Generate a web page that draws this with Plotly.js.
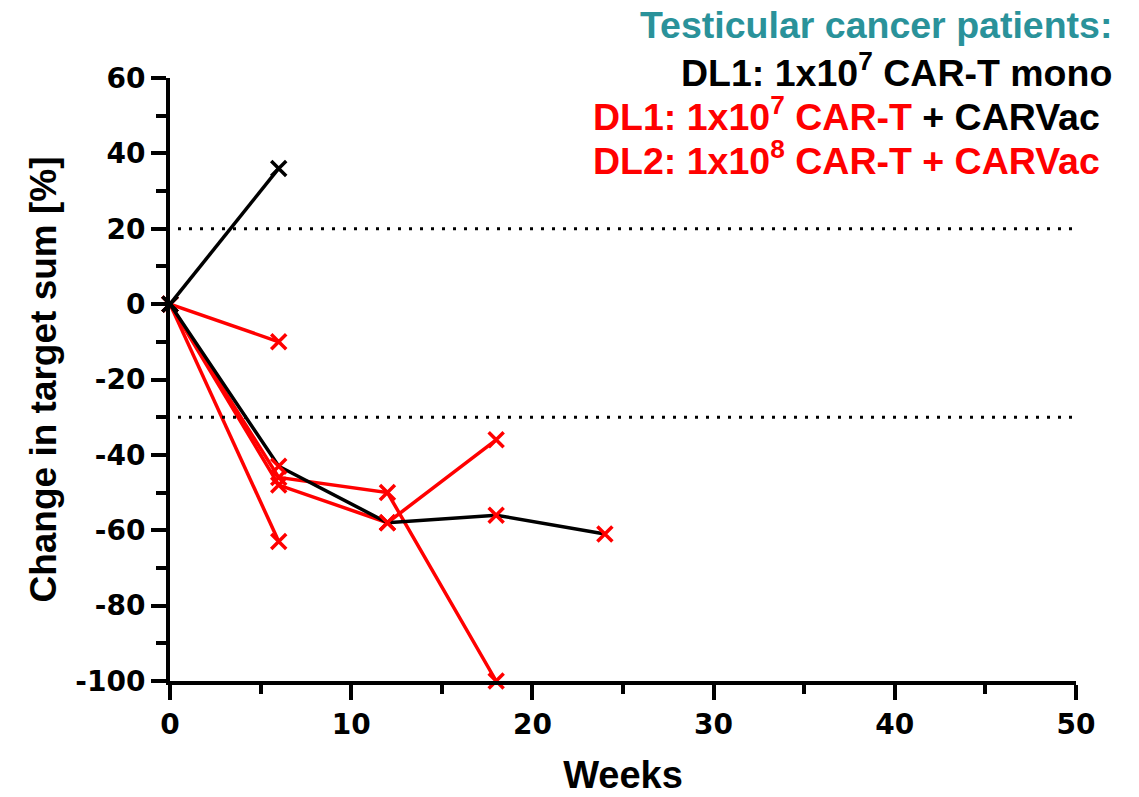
<!DOCTYPE html>
<html>
<head>
<meta charset="utf-8">
<script src="https://cdn.plot.ly/plotly-3.0.1.min.js"></script>
<style>
  html, body { margin: 0; padding: 0; background: #fff; }
  #chart { width: 1139px; height: 797px; }
</style>
</head>
<body>
<div id="chart"></div>
<script>
// ---- Data ----
const monoWeeks = [0, 6];
const monoValues = [0, 36];

const mixedWeeks = [0, 6, 12, 18, 24];
const mixedValues = [0, -43, -58, -56, -61];

const redAWeeks = [0, 6];
const redAValues = [0, -10];

const redBWeeks = [0, 6];
const redBValues = [0, -63];

const redCWeeks = [0, 6, 12, 18];
const redCValues = [0, -46, -50, -100];

const redDWeeks = [0, 6, 12, 18];
const redDValues = [0, -48, -58, -36];

const thresholds = [20, -30];

const xTicks = [0, 10, 20, 30, 40, 50];
const yTicks = [-100, -80, -60, -40, -20, 0, 20, 40, 60];

const legendLines = [
  '<span style="color:#2a929a">Testicular cancer patients:</span>',
  'DL1: 1x10<sup>7</sup> CAR-T mono',
  '<span style="color:#ff0000">DL1: 1x10<sup>7</sup> CAR-T</span> + CARVac',
  '<span style="color:#ff0000">DL2: 1x10<sup>8</sup> CAR-T + CARVac</span>'
];

// ---- Styling ----
const RED = '#ff0000';
const BLACK = '#000000';
const FONT = 'Liberation Sans, Arial, sans-serif';
const TICKFONT = 'DejaVu Sans, Liberation Sans, sans-serif';

function mkTrace(x, y, lineColor, markerColors) {
  return {
    x: x, y: y,
    type: 'scatter',
    mode: 'lines+markers',
    cliponaxis: false,
    line: { color: lineColor, width: 3.5 },
    marker: {
      symbol: 'x-thin',
      size: 15,
      color: markerColors,
      line: { width: 3.5, color: markerColors }
    },
    hoverinfo: 'x+y',
    showlegend: false
  };
}

const traces = [
  mkTrace(redAWeeks, redAValues, RED, RED),
  mkTrace(redBWeeks, redBValues, RED, RED),
  mkTrace(redCWeeks, redCValues, RED, RED),
  mkTrace(redDWeeks, redDValues, RED, RED),
  mkTrace(mixedWeeks, mixedValues, BLACK, mixedWeeks.map((w, i) => i === 0 ? BLACK : RED)),
  mkTrace(monoWeeks, monoValues, BLACK, BLACK)
];

const L = 170, R = 63, T = 78, B = 116;
const W = 1139, H = 797;
const pw = W - L - R, ph = H - T - B;
function px2paperX(px) { return (px - L) / pw; }
function px2paperY(py) { return (H - B - py) / ph; }

const legendY = [25, 70, 114, 158];
const legendX = [1114, 1114, 1102, 1102];

const annotations = legendLines.map((txt, i) => ({
  text: '<b>' + txt + '</b>',
  xref: 'paper', yref: 'paper',
  x: px2paperX(legendX[i]), y: px2paperY(legendY[i]),
  xanchor: 'right', yanchor: 'middle',
  showarrow: false,
  font: { family: FONT, size: 37.5, color: BLACK }
}));

const shapes = thresholds.map(v => ({
  type: 'line', xref: 'paper', yref: 'y',
  x0: px2paperX(178), x1: px2paperX(1072), y0: v, y1: v,
  line: { color: BLACK, width: 3, dash: '3px,8px' }
}));

const layout = {
  width: W, height: H,
  margin: { l: L, r: R, t: T, b: B, pad: 0 },
  paper_bgcolor: '#ffffff',
  plot_bgcolor: '#ffffff',
  showlegend: false,
  xaxis: {
    range: [0, 50],
    tickvals: xTicks,
    ticktext: xTicks.map(v => '<b>' + v + '</b>'),
    ticks: 'outside', ticklen: 15, tickwidth: 4, tickcolor: BLACK,
    minor: { ticks: 'outside', dtick: 5, tick0: 0, ticklen: 9, tickwidth: 4, tickcolor: BLACK, showgrid: false },
    showline: true, linewidth: 4, linecolor: BLACK,
    showgrid: false, zeroline: false,
    tickfont: { family: TICKFONT, size: 28, color: BLACK },
    title: { text: '<b>Weeks</b>', font: { family: FONT, size: 38, color: BLACK }, standoff: 23 },
    automargin: false
  },
  yaxis: {
    range: [-100, 60],
    tickvals: yTicks,
    ticktext: yTicks.map(v => '<b>' + v + '</b>'),
    ticks: 'outside', ticklen: 15, tickwidth: 4, tickcolor: BLACK,
    minor: { ticks: 'outside', dtick: 10, tick0: 0, ticklen: 10, tickwidth: 4, tickcolor: BLACK, showgrid: false },
    showline: true, linewidth: 4, linecolor: BLACK,
    showgrid: false, zeroline: false,
    tickfont: { family: TICKFONT, size: 28, color: BLACK },
    title: { text: '<b>Change in target sum [%]</b>', font: { family: FONT, size: 37, color: BLACK }, standoff: 8 },
    automargin: false
  },
  annotations: annotations,
  shapes: shapes
};

Plotly.newPlot('chart', traces, layout, { displayModeBar: false, staticPlot: true });
</script>
</body>
</html>
